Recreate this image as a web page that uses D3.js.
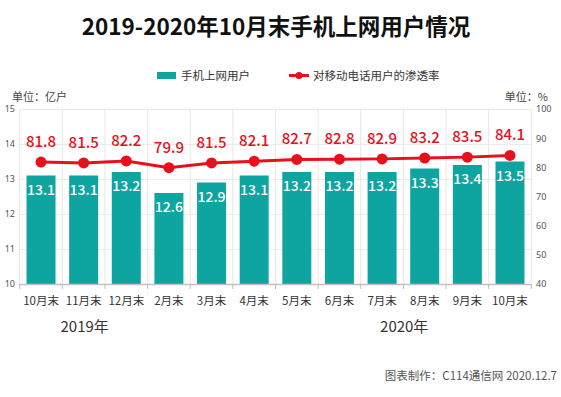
<!DOCTYPE html>
<html>
<head>
<meta charset="utf-8">
<script src="https://cdn.jsdelivr.net/npm/d3@7"></script>
<style>
  body { margin: 0; background: #fff; }
  text { font-family: "Noto Sans CJK SC", "Noto Sans", sans-serif; }
</style>
</head>
<body>
<div id="chart"></div>
<script>
// data
var months = ["10月末", "11月末", "12月末", "2月末", "3月末", "4月末", "5月末", "6月末", "7月末", "8月末", "9月末", "10月末"];
var keys = d3.range(months.length); // month labels repeat, so index the bands
var users = [13.1, 13.1, 13.2, 12.6, 12.9, 13.1, 13.2, 13.2, 13.2, 13.3, 13.4, 13.5];
var rate = [81.8, 81.5, 82.2, 79.9, 81.5, 82.1, 82.7, 82.8, 82.9, 83.2, 83.5, 84.1];
var leftTicks = [10, 11, 12, 13, 14, 15];
var rightTicks = [40, 50, 60, 70, 80, 90, 100];

var W = 561, H = 397;
var teal = "#0ea5a1", red = "#e8101a";

var svg = d3.select("#chart").append("svg")
    .attr("width", W)
    .attr("height", H);

var x = d3.scaleBand()
    .domain(keys)
    .range([19.7, 531.3])
    .paddingInner(0.32)
    .paddingOuter(0.16);
var y = d3.scaleLinear().domain([10, 15]).range([284, 109]);
var y2 = d3.scaleLinear().domain([40, 100]).range([284, 109]);

// title
svg.append("text")
    .attr("x", 276).attr("y", 35)
    .attr("text-anchor", "middle")
    .style("font-size", "22.5px")
    .style("font-weight", "bold")
    .style("fill", "#111")
    .text("2019-2020年10月末手机上网用户情况");

// legend
svg.append("rect")
    .attr("x", 157).attr("y", 72).attr("width", 19).attr("height", 7)
    .style("fill", teal);
svg.append("text")
    .attr("x", 181).attr("y", 80)
    .style("font-size", "11.5px").style("fill", "#333")
    .text("手机上网用户");
svg.append("line")
    .attr("x1", 289).attr("x2", 309).attr("y1", 75.5).attr("y2", 75.5)
    .style("stroke", red).style("stroke-width", 3);
svg.append("circle")
    .attr("cx", 299).attr("cy", 75.5).attr("r", 3.5)
    .style("fill", red);
svg.append("text")
    .attr("x", 313).attr("y", 80)
    .style("font-size", "11.5px").style("fill", "#333")
    .text("对移动电话用户的渗透率");

// unit labels
svg.append("text")
    .attr("x", 12).attr("y", 101)
    .style("font-size", "11px").style("fill", "#444")
    .text("单位：亿户");
svg.append("text")
    .attr("x", 548).attr("y", 101)
    .attr("text-anchor", "end")
    .style("font-size", "11px").style("fill", "#444")
    .text("单位：%");

// grid
var step = x.step();
var bounds = d3.range(months.length + 1).map(function(i) { return 19.7 + i * step; });

svg.append("g").selectAll("line")
    .data(leftTicks.slice(1))
  .enter().append("line")
    .attr("x1", 19.7).attr("x2", 531.3)
    .attr("y1", function(d) { return y(d) + 0.5; })
    .attr("y2", function(d) { return y(d) + 0.5; })
    .style("stroke", "#ebebeb");

svg.append("g").selectAll("line")
    .data(bounds)
  .enter().append("line")
    .attr("x1", function(d) { return d; })
    .attr("x2", function(d) { return d; })
    .attr("y1", 109).attr("y2", 284)
    .style("stroke", "#e6e6e6");

// left axis
var gl = svg.append("g")
    .attr("transform", "translate(15,0)")
    .call(d3.axisLeft(y).tickValues(leftTicks).tickFormat(d3.format("d")).tickSize(0).tickPadding(0));
gl.select(".domain").remove();
gl.selectAll("text").style("font-size", "9px").style("fill", "#555")
    .style("font-family", "'Noto Sans', sans-serif");

// right axis
var gr = svg.append("g")
    .attr("transform", "translate(536,0)")
    .call(d3.axisRight(y2).tickValues(rightTicks).tickFormat(d3.format("d")).tickSize(0).tickPadding(0));
gr.select(".domain").remove();
gr.selectAll("text").style("font-size", "9px").style("fill", "#555")
    .style("font-family", "'Noto Sans', sans-serif");

// bars
svg.selectAll(".bar")
    .data(users)
  .enter().append("rect")
    .attr("class", "bar")
    .attr("x", function(d, i) { return x(i); })
    .attr("width", x.bandwidth())
    .attr("y", function(d) { return y(d); })
    .attr("height", function(d) { return y(10) - y(d); })
    .style("fill", teal);

svg.selectAll(".bl")
    .data(users)
  .enter().append("text")
    .attr("class", "bl")
    .attr("x", function(d, i) { return x(i) + x.bandwidth() / 2; })
    .attr("y", function(d) { return y(d) + 19; })
    .attr("text-anchor", "middle")
    .style("font-size", "14px")
    .style("font-weight", "500")
    .style("fill", "#fff")
    .text(function(d) { return d.toFixed(1); });

// bottom axis
svg.append("line")
    .attr("x1", 19.7).attr("x2", 531.3).attr("y1", 284.5).attr("y2", 284.5)
    .style("stroke", "#c8c0c0").style("stroke-width", 1.5);
svg.append("g").selectAll("line")
    .data(bounds)
  .enter().append("line")
    .attr("x1", function(d) { return d; })
    .attr("x2", function(d) { return d; })
    .attr("y1", 284).attr("y2", 289)
    .style("stroke", "#c8b8b8");

svg.selectAll(".ml")
    .data(months)
  .enter().append("text")
    .attr("class", "ml")
    .attr("x", function(d, i) { return x(i) + x.bandwidth() / 2; })
    .attr("y", 305)
    .attr("text-anchor", "middle")
    .style("font-size", "11.5px")
    .style("fill", "#333")
    .text(function(d) { return d; });

svg.append("text")
    .attr("x", x(1) + x.bandwidth() / 2 + 1).attr("y", 332)
    .attr("text-anchor", "middle")
    .style("font-size", "15px").style("fill", "#333")
    .text("2019年");
svg.append("text")
    .attr("x", x(9) - 6).attr("y", 332)
    .attr("text-anchor", "middle")
    .style("font-size", "15px").style("fill", "#333")
    .text("2020年");

// line
var line = d3.line()
    .x(function(d, i) { return x(i) + x.bandwidth() / 2; })
    .y(function(d) { return y2(d); });

svg.append("path")
    .datum(rate)
    .attr("d", line)
    .style("fill", "none")
    .style("stroke", red)
    .style("stroke-width", 3);

svg.selectAll(".dot")
    .data(rate)
  .enter().append("circle")
    .attr("class", "dot")
    .attr("cx", function(d, i) { return x(i) + x.bandwidth() / 2; })
    .attr("cy", function(d) { return y2(d); })
    .attr("r", 5.5)
    .style("fill", red);

svg.selectAll(".rl")
    .data(rate)
  .enter().append("text")
    .attr("class", "rl")
    .attr("x", function(d, i) { return x(i) + x.bandwidth() / 2; })
    .attr("y", function(d) { return y2(d) - 15; })
    .attr("text-anchor", "middle")
    .style("font-size", "15px")
    .style("font-weight", "500")
    .style("fill", red)
    .text(function(d) { return d.toFixed(1); });

// footer
svg.append("text")
    .attr("x", 557).attr("y", 380)
    .attr("text-anchor", "end")
    .style("font-size", "11.5px").style("fill", "#555")
    .text("图表制作：C114通信网  2020.12.7");
</script>
</body>
</html>
